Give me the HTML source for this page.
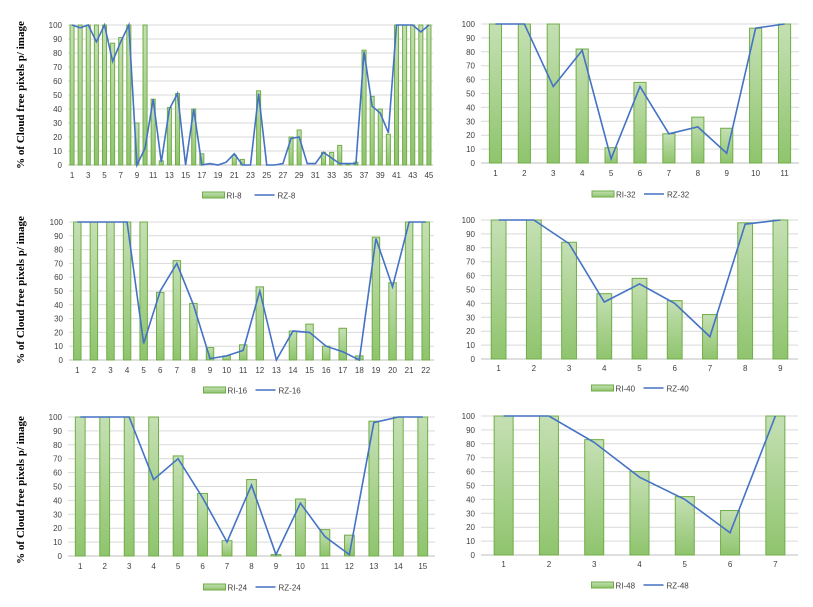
<!DOCTYPE html>
<html><head><meta charset="utf-8"><style>
body{margin:0;background:#fff;width:813px;height:607px;overflow:hidden;font-family:"Liberation Sans",sans-serif}
svg{position:absolute;left:0;top:0}
</style></head><body>
<svg id="c" width="813" height="607">
<defs><linearGradient id="g" x1="0" y1="0" x2="0" y2="1"><stop offset="0" stop-color="#c5e0b4"/><stop offset="1" stop-color="#8fc46d"/></linearGradient></defs>
</svg>
<script>
const ri8=[100,100,100,100,100,87,91,100,30,100,47,3,41,51,0,40,8,0,0,0,7,4,0,53,0,0,0,20,25,0,0,9,9,14,1,2,82,49,40,22,100,100,100,100,100];
const rz8=[100,98,100,88,100,74,88,100,0,12,47,2,40,51,0,40,0,1,0,2,8,0,0,51,0,0,1,19,20,1,1,9,5,1,1,1,81,42,37,23,100,100,100,95,100];
const ri16=[100,100,100,100,100,49,72,41,9,3,11,53,0,21,26,10,23,3,89,56,100,100];
const rz16=[100,100,100,100,12,50,70,40,1,3,7,50,0,21,20,10,6,0,88,53,100,100];
const ri24=[100,100,100,100,72,45,11,55,1,41,19,15,97,100,100];
const rz24=[100,100,100,55,70,42,10,51,1,38,14,1,96,100,100];
const ri32=[100,100,100,82,11,58,21,33,25,97,100];
const rz32=[100,100,55,81,3,55,21,26,7,97,100];
const ri40=[100,100,84,47,58,42,32,98,100];
const rz40=[100,100,83,41,54,40,16,97,100];
const ri48=[100,100,83,60,42,32,100];
const rz48=[100,100,81,56,40,16,100];
const yTicks=[0,10,20,30,40,50,60,70,80,90,100];

const NS="http://www.w3.org/2000/svg";
const svg=document.getElementById('c');
function mk(tag,attrs,parent){const e=document.createElementNS(NS,tag);for(const k in attrs)e.setAttribute(k,attrs[k]);(parent||svg).appendChild(e);return e;}

function panel(id,bars,line,L,R,yTop,yBot,labY,legY,every,bw){
  const g=mk('g',{});
  
  
  const n=bars.length, step=(R-L)/n;
  const x=i=>L+step*(i+0.5);
  const y=v=>yBot-(yBot-yTop)*v/100;
  yTicks.forEach(t=>{
    const gl=mk('line',{x1:L,x2:R,y1:y(t),y2:y(t),stroke:t===0?'#bfbfbf':'#d9d9d9','stroke-width':1},g);
    
    
    const tl=mk('text',{x:L-6,y:y(t)+3,'text-anchor':'end','font-size':8,fill:'#404040'},g);
    tl.textContent=t;
    
    
  });
  bars.forEach((v,i)=>{
    const w=step*bw;
    const b=mk('rect',{x:x(i)-w/2,y:y(v),width:w,height:yBot-y(v),fill:'url(#g)',stroke:'#70ad47','stroke-width':1},g);
    
    
    if(i%every===0){
      const t=mk('text',{x:x(i),y:labY,'text-anchor':'middle','font-size':8,fill:'#404040'},g);
      t.textContent=i+1;
      
      
    }
  });
  const p=mk('polyline',{points:line.map((v,i)=>x(i)+','+y(v)).join(' '),fill:'none',stroke:'#4472c4','stroke-width':1.6},g);
  
  
  const cx=(L+R)/2;
  const lr=mk('rect',{x:cx-48,y:legY-4,width:22,height:6,fill:'url(#g)',stroke:'#70ad47'},g);
  
  
  const lt=mk('text',{x:cx-24,y:legY+2.5,'font-size':8,fill:'#404040'},g);
  lt.textContent='RI-'+id;
  
  
  const ll=mk('line',{x1:cx+4,x2:cx+24,y1:legY-1,y2:legY-1,stroke:'#4472c4','stroke-width':1.6},g);
  
  
  const lt2=mk('text',{x:cx+27,y:legY+2.5,'font-size':8,fill:'#404040'},g);
  lt2.textContent='RZ-'+id;
  
  
}
panel('8',ri8,rz8,68,433,25,165,178,196,2,0.5);
panel('16',ri16,rz16,69,434,222,360,373,391,1,0.45);
panel('24',ri24,rz24,68,435,417,556,569,588,1,0.4);
panel('32',ri32,rz32,481,799,24,163,176,195,1,0.42);
panel('40',ri40,rz40,481,798,220,359,371,389,1,0.42);
panel('48',ri48,rz48,481,798,416,555,567,586,1,0.42);
[95,290,490].forEach(cy=>{
  const t=mk('text',{x:0,y:0,transform:'translate(24,'+cy+') rotate(-90)','text-anchor':'middle','font-size':11,'font-weight':'bold','font-family':'Liberation Serif, serif',fill:'#000'});
  t.textContent='% of Cloud free pixels p/ image';
  
  
});
</script>
</body></html>
